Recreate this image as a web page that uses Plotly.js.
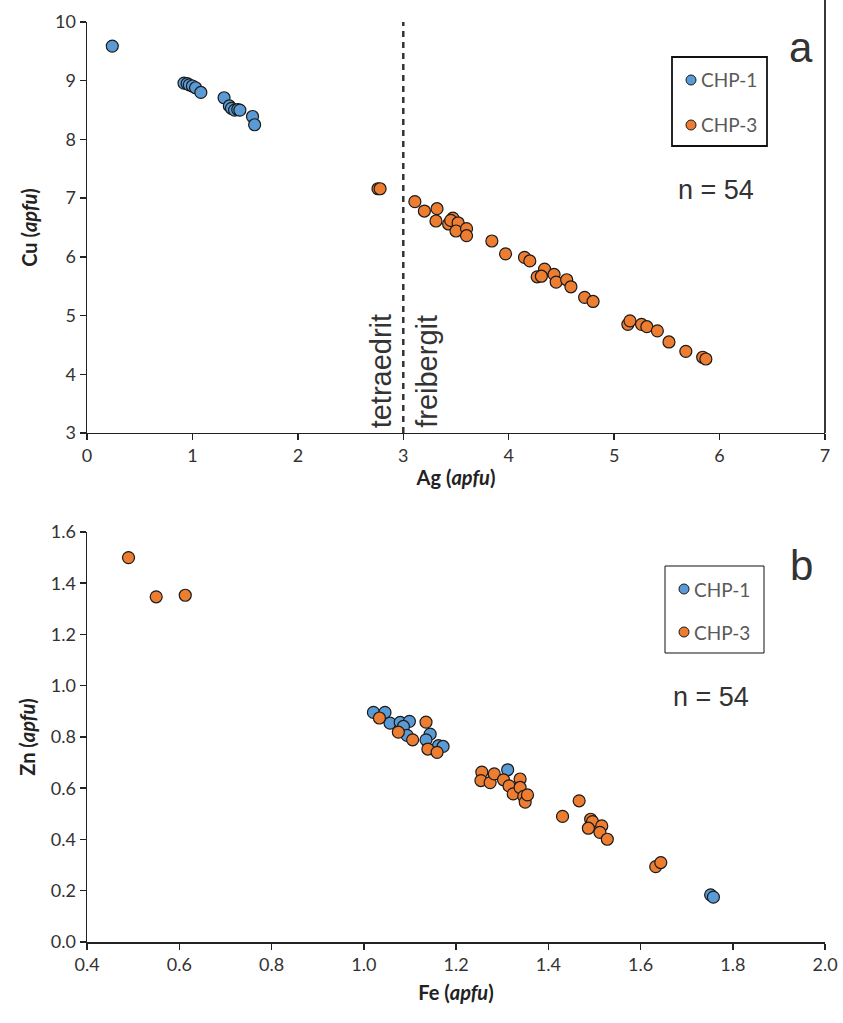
<!DOCTYPE html>
<html><head><meta charset="utf-8">
<script src="https://cdn.plot.ly/plotly-3.0.1.min.js"></script>
<style>html,body{margin:0;padding:0;background:#fff}#chart{width:843px;height:1023px}</style>
</head><body><div id="chart"></div>
<script>
// Panel a: Ag vs Cu (apfu)
const a_chp1_ag = [0.24,0.92,0.95,0.97,1.00,1.03,1.08,1.30,1.35,1.37,1.40,1.43,1.45,1.57,1.59];
const a_chp1_cu = [9.59,8.96,8.95,8.93,8.91,8.88,8.80,8.71,8.57,8.53,8.50,8.51,8.50,8.39,8.25];
const a_chp3_ag = [2.76,2.78,3.11,3.20,3.32,3.31,3.43,3.47,3.45,3.52,3.50,3.60,3.60,3.84,3.97,4.15,4.20,4.34,4.27,4.31,4.43,4.45,4.55,4.59,4.72,4.80,5.13,5.15,5.26,5.31,5.41,5.52,5.68,5.84,5.87];
const a_chp3_cu = [7.16,7.16,6.94,6.78,6.82,6.61,6.56,6.66,6.62,6.58,6.44,6.48,6.36,6.27,6.05,5.99,5.93,5.79,5.66,5.67,5.70,5.57,5.61,5.49,5.31,5.24,4.85,4.91,4.85,4.81,4.74,4.55,4.39,4.29,4.26];
// Panel b: Fe vs Zn (apfu)
const b_chp1_fe = [1.021,1.046,1.057,1.079,1.099,1.086,1.094,1.144,1.135,1.162,1.172,1.312,1.752,1.758];
const b_chp1_zn = [0.896,0.896,0.854,0.857,0.861,0.841,0.806,0.811,0.789,0.766,0.763,0.672,0.184,0.175];
const b_chp3_fe = [0.49,0.55,0.613,1.034,1.075,1.106,1.135,1.139,1.159,1.256,1.254,1.274,1.283,1.303,1.315,1.324,1.339,1.339,1.347,1.350,1.355,1.431,1.467,1.492,1.496,1.487,1.516,1.512,1.528,1.633,1.644];
const b_chp3_zn = [1.50,1.347,1.353,0.874,0.819,0.789,0.858,0.753,0.740,0.663,0.630,0.622,0.656,0.633,0.609,0.578,0.636,0.603,0.568,0.546,0.574,0.490,0.551,0.479,0.470,0.444,0.453,0.428,0.401,0.294,0.310];
const seriesNames = ["CHP-1","CHP-3"];
const xTicksA = [0,1,2,3,4,5,6,7];
const yTicksA = [3,4,5,6,7,8,9,10];
const xTicksB = [0.4,0.6,0.8,1.0,1.2,1.4,1.6,1.8,2.0];
const yTicksB = [0.0,0.2,0.4,0.6,0.8,1.0,1.2,1.4,1.6];
const boundaryAg = 3;

const BLUE = '#5B9BD5', ORANGE = '#ED7D31', EDGE = '#1a1a1a';
const mk = c => ({color:c, size:12, line:{color:EDGE, width:1.2}});
const traces = [
  {x:a_chp1_ag, y:a_chp1_cu, mode:'markers', marker:mk(BLUE), xaxis:'x', yaxis:'y', showlegend:false},
  {x:a_chp3_ag, y:a_chp3_cu, mode:'markers', marker:mk(ORANGE), xaxis:'x', yaxis:'y', showlegend:false},
  {x:b_chp1_fe, y:b_chp1_zn, mode:'markers', marker:mk(BLUE), xaxis:'x2', yaxis:'y2', showlegend:false},
  {x:b_chp3_fe, y:b_chp3_zn, mode:'markers', marker:mk(ORANGE), xaxis:'x2', yaxis:'y2', showlegend:false},
  {x:[boundaryAg,boundaryAg], y:[3,10], mode:'lines', line:{color:'#333', width:2.5, dash:'6px,5px'}, xaxis:'x', yaxis:'y', showlegend:false, hoverinfo:'skip'}
];
const tickFont = {family:'Lato, "Noto Sans", sans-serif', size:18, color:'#333'};
const axBase = {showgrid:false, zeroline:false, showline:true, linecolor:'#222', linewidth:1.5,
  ticks:'outside', ticklen:6, tickwidth:1.5, tickcolor:'#222', tickfont:tickFont};
const titleFont = {family:'Lato, "Noto Sans", sans-serif', size:20, color:'#222'};
const layout = {
  width:843, height:1023, paper_bgcolor:'#fff', plot_bgcolor:'#fff',
  margin:{l:87, r:18, t:22, b:81},
  showlegend:false,
  xaxis:Object.assign({}, axBase, {domain:[0,1], range:[0,7], tickvals:xTicksA, anchor:'y',
    title:{text:'<b>Ag (<i>apfu</i>)</b>', font:titleFont, standoff:6}}),
  yaxis:Object.assign({}, axBase, {domain:[0.5533,1], range:[3,10], tickvals:yTicksA, anchor:'x',
    title:{text:'<b>Cu (<i>apfu</i>)</b>', font:titleFont, standoff:12}}),
  xaxis2:Object.assign({}, axBase, {domain:[0,1], range:[0.4,2.0], tickvals:xTicksB, ticktext:xTicksB.map(v=>v.toFixed(1)), anchor:'y2',
    title:{text:'<b>Fe (<i>apfu</i>)</b>', font:titleFont, standoff:12}}),
  yaxis2:Object.assign({}, axBase, {domain:[0,0.4457], range:[0,1.6], tickvals:yTicksB, ticktext:yTicksB.map(v=>v.toFixed(1)), anchor:'x2',
    title:{text:'<b>Zn (<i>apfu</i>)</b>', font:titleFont, standoff:10}}),
  shapes:[
    {type:'line', xref:'paper', yref:'paper', x0:1, x1:1, y0:0.5533, y1:1.024, line:{color:'#222', width:1.8}},
    // legend boxes
    {type:'rect', xref:'paper', yref:'paper', x0:(672-87)/738, x1:(767-87)/738, y0:(942-146)/920, y1:(942-57)/920, line:{color:'#111', width:1.8}, fillcolor:'rgba(0,0,0,0)'},
    {type:'rect', xref:'paper', yref:'paper', x0:(665-87)/738, x1:(764-87)/738, y0:(942-653)/920, y1:(942-566)/920, line:{color:'#111', width:1}, fillcolor:'rgba(0,0,0,0)'}
  ],
  annotations:[]
};
function legendItems(x0px, yPx){
  seriesNames.forEach((n,i)=>{
    const col = i===0?BLUE:ORANGE;
    layout.shapes.push({type:'circle', xref:'paper', yref:'paper', xsizemode:'pixel', ysizemode:'pixel',
      xanchor:(x0px-87)/738, yanchor:(942-yPx[i])/920, x0:-5, x1:5, y0:-5, y1:5,
      fillcolor:col, line:{color:EDGE, width:1}});
    layout.annotations.push({xref:'paper', yref:'paper', x:(x0px+8-87)/738, y:(942-yPx[i])/920, xanchor:'left', yanchor:'middle',
      text:n, showarrow:false, font:{family:'Lato, "Noto Sans", sans-serif', size:19, color:'#595959'}});
  });
}
legendItems(691, [80,125]);
legendItems(684, [589,632]);
const big = {family:'"Liberation Sans", Arial, sans-serif', color:'#333'};
layout.annotations.push(
  {xref:'paper', yref:'paper', x:(801-87)/738, y:(942-48)/920, xanchor:'center', yanchor:'middle', text:'a', showarrow:false, font:Object.assign({size:42}, big)},
  {xref:'paper', yref:'paper', x:(801-87)/738, y:(942-566)/920, xanchor:'center', yanchor:'middle', text:'b', showarrow:false, font:Object.assign({size:42}, big)},
  {xref:'paper', yref:'paper', x:(716-87)/738, y:(942-190)/920, xanchor:'center', yanchor:'middle', text:'n = 54', showarrow:false, font:Object.assign({size:27}, big)},
  {xref:'paper', yref:'paper', x:(711-87)/738, y:(942-697)/920, xanchor:'center', yanchor:'middle', text:'n = 54', showarrow:false, font:Object.assign({size:27}, big)},
  {xref:'x', yref:'y', x:boundaryAg, y:3.05, xshift:-22, yanchor:'bottom', xanchor:'center', textangle:-90, text:'tetraedrit', showarrow:false, font:Object.assign({size:29}, big)},
  {xref:'x', yref:'y', x:boundaryAg, y:3.05, xshift:23, yanchor:'bottom', xanchor:'center', textangle:-90, text:'freibergit', showarrow:false, font:Object.assign({size:29}, big)}
);
Plotly.newPlot('chart', traces, layout, {displayModeBar:false, staticPlot:true});
</script></body></html>
